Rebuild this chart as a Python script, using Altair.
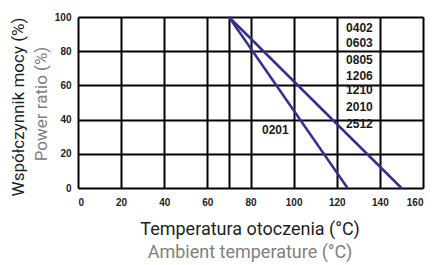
import altair as alt
import pandas as pd

# data
temp_0201 = [70, 125]
ratio_0201 = [100, 0]
temp_other = [70, 150]
ratio_other = [100, 0]

size_labels = ["0402", "0603", "0805", "1206", "1210", "2010", "2512"]
size_label_x = [130.5, 130.5, 130.5, 130.5, 130.5, 130.5, 130.5]
size_label_y = [93.6, 84.8, 74.9, 65.5, 57.3, 47.4, 37.4]
label_0201 = ["0201"]
label_0201_x = [91.5]
label_0201_y = [33.9]

x_ticks = [0, 20, 40, 60, 70, 80, 100, 120, 140, 160]
y_ticks = [0, 20, 40, 60, 80, 100]

title_x_pl = "Temperatura otoczenia (°C)"
title_x_en = "Ambient temperature (°C)"
title_y_pl = "Współczynnik mocy (%)"
title_y_en = "Power ratio (%)"

lines_df = pd.DataFrame({
    "t": temp_0201 + temp_other,
    "p": ratio_0201 + ratio_other,
    "s": ["0201"] * 2 + ["other"] * 2,
})
labels_df = pd.DataFrame({
    "t": size_label_x + label_0201_x,
    "p": size_label_y + label_0201_y,
    "lab": size_labels + label_0201,
})

W, H = 345, 171
xs = alt.Scale(domain=[0, 160], nice=False)
ys = alt.Scale(domain=[0, 100], nice=False)

x_axis = alt.Axis(values=x_ticks, tickCount=40,
                  labelExpr="datum.value == 70 ? '' : datum.label",
                  title=None, ticks=False, domain=False, grid=True, gridColor="black",
                  gridWidth=2, gridOpacity=1, labelFont="Liberation Sans", labelFontSize=10,
                  labelFontWeight="bold", labelColor="#222", labelPadding=9,
                  labelOverlap=False)
y_axis = alt.Axis(values=y_ticks, tickCount=40, title=None, ticks=False, domain=False,
                  grid=True, gridColor="black", gridWidth=2, gridOpacity=1,
                  labelFont="Liberation Sans", labelFontSize=10, labelFontWeight="bold",
                  labelColor="#222", labelPadding=7, labelOverlap=False)

lines = alt.Chart(lines_df).mark_line(color="#34308f", strokeWidth=2.5).encode(
    x=alt.X("t:Q", scale=xs, axis=x_axis),
    y=alt.Y("p:Q", scale=ys, axis=y_axis),
    detail="s:N",
)

labels = alt.Chart(labels_df).mark_text(font="Liberation Sans", fontSize=12, fontWeight="bold",
                                        color="#1a1a1a").encode(
    x=alt.X("t:Q", scale=xs, axis=x_axis),
    y=alt.Y("p:Q", scale=ys, axis=y_axis),
    text="lab:N",
)

def title_text(txt, x, y, size, color, angle=0):
    return alt.Chart(pd.DataFrame({"a": [0]})).mark_text(
        text=txt, font="Roboto", fontSize=size, color=color, angle=angle,
        align="center", baseline="middle").encode(x=alt.value(x), y=alt.value(y))

t1 = title_text(title_x_pl, 172, 213, 18, "#1e1e1e")
t2 = title_text(title_x_en, 172, 236, 18, "#808080")
t3 = title_text(title_y_pl, -59, 90, 17, "#1e1e1e", 270)
t4 = title_text(title_y_en, -36, 87, 17, "#808080", 270)

chart = alt.layer(lines, labels, t1, t2, t3, t4).properties(
    width=W, height=H,
    autosize=alt.AutoSizeParams(type="none"),
    padding={"left": 70, "top": 9, "right": 5, "bottom": 76},
).configure_view(stroke="black", strokeWidth=2).configure(background="white")

chart.save("out.html", embed_options={"renderer": "svg", "actions": False})
